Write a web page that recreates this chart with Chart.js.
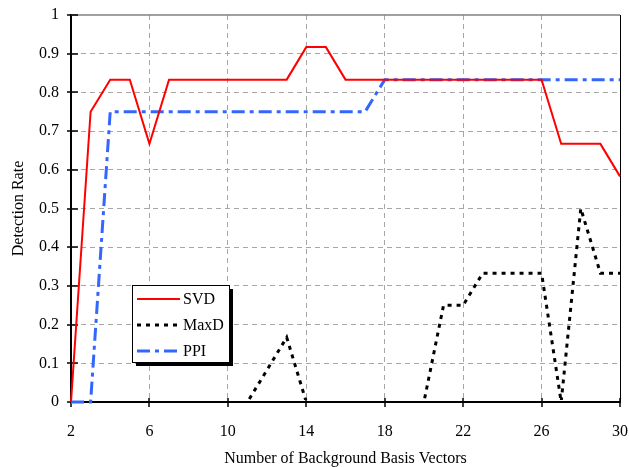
<!DOCTYPE html>
<html>
<head>
<meta charset="utf-8">
<script src="https://cdn.jsdelivr.net/npm/chart.js@4/dist/chart.umd.min.js"></script>
<style>
  html, body { margin: 0; padding: 0; background: #ffffff; }
  #wrap { width: 629px; height: 467px; position: relative; }
</style>
</head>
<body>
<div id="wrap"><canvas id="c" width="629" height="467"></canvas></div>
<script>
// ---- data ----
const basisCounts = [2,3,4,5,6,7,8,9,10,11,12,13,14,15,16,17,18,19,20,21,22,23,24,25,26,27,28,29,30];
const svdRate  = [0,0.75,0.833,0.833,0.667,0.833,0.833,0.833,0.833,0.833,0.833,0.833,0.917,0.917,0.833,0.833,0.833,0.833,0.833,0.833,0.833,0.833,0.833,0.833,0.833,0.667,0.667,0.667,0.583];
const maxdRate = [0,0,0,0,0,0,0,0,0,0,0.083,0.167,0,0,0,0,0,0,0,0.25,0.25,0.333,0.333,0.333,0.333,0,0.5,0.333,0.333];
const ppiRate  = [0,0,0.75,0.75,0.75,0.75,0.75,0.75,0.75,0.75,0.75,0.75,0.75,0.75,0.75,0.75,0.833,0.833,0.833,0.833,0.833,0.833,0.833,0.833,0.833,0.833,0.833,0.833,0.833];
const xTickValues = [2,6,10,14,18,22,26,30];
const yTickValues = [0,0.1,0.2,0.3,0.4,0.5,0.6,0.7,0.8,0.9,1];
const seriesNames = ['SVD','MaxD','PPI'];

const FONT = '"Liberation Serif", "Times New Roman", serif';

function pts(arr) { return basisCounts.map((x, i) => ({x: x, y: arr[i]})); }

const frameAndTicks = {
  id: 'frameAndTicks',
  beforeDatasetsDraw(chart) {
    const {ctx, chartArea: a} = chart;
    const xs = chart.scales.x, ys = chart.scales.y;
    ctx.save();
    // top border
    ctx.strokeStyle = '#808080';
    ctx.lineWidth = 1.5;
    ctx.beginPath(); ctx.moveTo(a.left, a.top); ctx.lineTo(a.right, a.top); ctx.stroke();
    // right border
    ctx.strokeStyle = '#000000';
    ctx.lineWidth = 1;
    ctx.beginPath(); ctx.moveTo(a.right + 0.5, a.top); ctx.lineTo(a.right + 0.5, a.bottom); ctx.stroke();
    // tick marks
    ctx.strokeStyle = '#000000';
    ctx.lineWidth = 1.5;
    xs.ticks.forEach(t => {
      const px = Math.round(xs.getPixelForValue(t.value));
      ctx.beginPath(); ctx.moveTo(px, a.bottom - 4); ctx.lineTo(px, a.bottom + 5); ctx.stroke();
    });
    ys.ticks.forEach(t => {
      const py = Math.round(ys.getPixelForValue(t.value));
      ctx.beginPath(); ctx.moveTo(a.left - 4, py); ctx.lineTo(a.left + 7, py); ctx.stroke();
    });
    ctx.restore();
  }
};

const boxLegend = {
  id: 'boxLegend',
  afterDatasetsDraw(chart) {
    const {ctx} = chart;
    const bx = 132, by = 285, bw = 97, bh = 77;
    ctx.save();
    ctx.fillStyle = '#000000';
    ctx.fillRect(bx + 4, by + 4, bw, bh);
    ctx.fillStyle = '#ffffff';
    ctx.fillRect(bx, by, bw, bh);
    ctx.strokeStyle = '#000000';
    ctx.lineWidth = 1;
    ctx.strokeRect(bx + 0.5, by + 0.5, bw, bh);
    const rowsY = [299, 325, 351];
    chart.data.datasets.forEach((ds, i) => {
      const y = rowsY[i];
      ctx.strokeStyle = ds.borderColor;
      ctx.lineWidth = ds.borderWidth;
      ctx.setLineDash(ds.borderDash || []);
      ctx.beginPath(); ctx.moveTo(137, y); ctx.lineTo(180, y); ctx.stroke();
      ctx.setLineDash([]);
      ctx.fillStyle = '#000000';
      ctx.font = '16px ' + FONT;
      ctx.textBaseline = 'middle';
      ctx.textAlign = 'left';
      ctx.fillText(ds.label, 183, y + 1);
    });
    ctx.restore();
  }
};

new Chart(document.getElementById('c'), {
  type: 'line',
  data: {
    datasets: [
      { label: seriesNames[0], data: pts(svdRate), borderColor: '#ff0000', borderWidth: 2, pointRadius: 0, tension: 0, clip: 5 },
      { label: seriesNames[1], data: pts(maxdRate), borderColor: '#000000', borderWidth: 3, borderDash: [4, 5], pointRadius: 0, tension: 0, clip: {left: 5, top: 5, right: 5, bottom: -2} },
      { label: seriesNames[2], data: pts(ppiRate), borderColor: '#3366ff', borderWidth: 3, borderDash: [13, 5, 4, 5], pointRadius: 0, tension: 0, clip: 5 }
    ]
  },
  options: {
    responsive: false,
    animation: false,
    events: [],
    layout: { padding: { top: 15, right: 9, left: 0, bottom: 0 } },
    plugins: { legend: { display: false }, tooltip: { enabled: false } },
    scales: {
      x: {
        type: 'linear',
        min: 2, max: 30,
        afterBuildTicks: s => { s.ticks = xTickValues.map(v => ({value: v})); },
        afterFit: s => { s.height = 65; s.paddingLeft = 0; s.paddingRight = 0; },
        grid: {
          drawTicks: false,
          color: ctx => (ctx.tick && (ctx.tick.value === 2 || ctx.tick.value === 30)) ? 'rgba(0,0,0,0)' : '#a6a6a6',
          lineWidth: 1
        },
        border: { color: '#000000', width: 2, dash: [5, 4] },
        ticks: { color: '#000000', font: { family: FONT, size: 16 }, padding: 20, maxRotation: 0, autoSkip: false },
        title: { display: true, text: 'Number of Background Basis Vectors', color: '#000000', font: { family: FONT, size: 16, lineHeight: 1 }, padding: { top: 0, bottom: 0 } }
      },
      y: {
        min: 0, max: 1,
        afterBuildTicks: s => { s.ticks = yTickValues.map(v => ({value: v})); },
        afterFit: s => { s.width = 71; s.paddingTop = 0; s.paddingBottom = 0; },
        grid: {
          drawTicks: false,
          color: ctx => (ctx.tick && (ctx.tick.value === 0 || ctx.tick.value === 1)) ? 'rgba(0,0,0,0)' : '#a6a6a6',
          lineWidth: 1
        },
        border: { color: '#000000', width: 2, dash: [5, 4] },
        ticks: { color: '#000000', font: { family: FONT, size: 16 }, padding: 12, callback: v => String(+v.toFixed(1)) },
        title: { display: true, text: 'Detection Rate', color: '#000000', font: { family: FONT, size: 16, lineHeight: 1.2 }, padding: { top: 9, bottom: 0 } }
      }
    }
  },
  plugins: [frameAndTicks, boxLegend]
});
</script>
</body>
</html>
